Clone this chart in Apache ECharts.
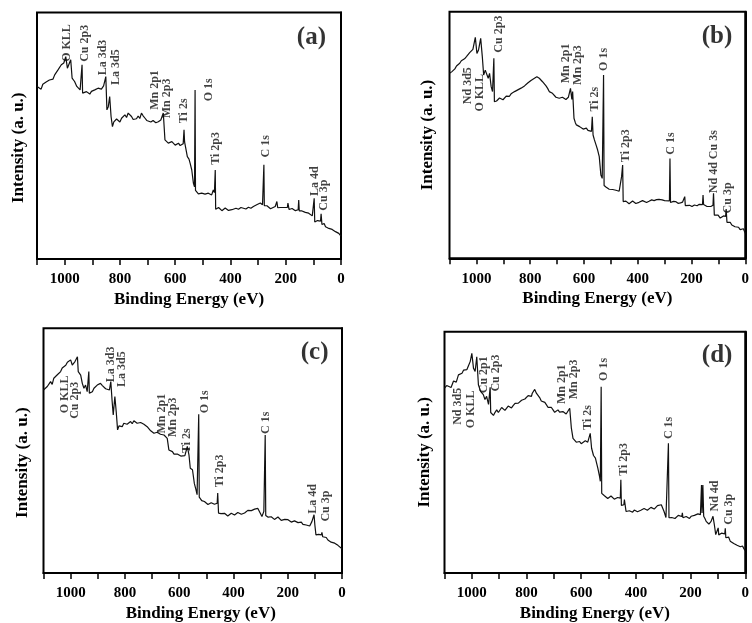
<!DOCTYPE html>
<html><head><meta charset="utf-8">
<script src="https://cdn.jsdelivr.net/npm/echarts@6/dist/echarts.min.js"></script>
<style>html,body{margin:0;padding:0;background:#fff}#c{width:752px;height:623px}</style>
</head><body><div id="c"></div>
<script>
// Binding energy (eV) vs intensity (a.u., 0-100 of plot height)
const spectrumA = [[1100,70.0],[1093,70.2],[1085,68.9],[1079,70.9],[1073,70.6],[1067,71.8],[1061,72.0],[1055,72.6],[1048,73.4],[1042,73.0],[1036,74.7],[1030,75.3],[1024,76.7],[1018,76.2],[1012,78.8],[1003,79.5],[996,82.1],[990,77.4],[978,80.8],[973,73.4],[964,72.0],[956,70.0],[949,70.6],[944,68.6],[941,68.0],[938.5,68.2],[937,78.8],[935,67.3],[928,66.6],[921,67.9],[915,67.5],[909,66.9],[903,68.0],[897,67.6],[891,68.6],[885,68.1],[879,69.3],[873,68.6],[867,68.9],[859,70.2],[853,70.5],[851,74.0],[847,60.5],[842,61.8],[837,65.9],[832,57.8],[827,53.7],[822,55.6],[818,55.1],[812,56.8],[806,56.4],[800,55.6],[794,57.1],[788,57.9],[782,58.5],[776,57.4],[770,59.2],[764,58.4],[758,57.8],[752,56.6],[746,57.1],[740,56.9],[734,58.0],[728,57.0],[722,59.2],[716,58.1],[709,57.1],[703,56.2],[697,56.4],[688,55.6],[680,56.2],[670,55.3],[661,55.7],[652,56.4],[643,59.2],[637,48.3],[631,47.5],[625,47.0],[618,46.5],[612,47.6],[606,46.8],[600,46.2],[594,46.7],[588,47.0],[582,46.0],[576,46.2],[571,46.8],[568,52.4],[566,47.5],[563,47.0],[556,41.5],[550,40.5],[546,38.9],[540,36.1],[534,30.7],[530,29.3],[528,68.6],[526.5,27.8],[524,27.3],[516,26.4],[510,26.9],[504,26.7],[498,25.9],[492,26.3],[486,26.9],[480,26.7],[474,26.2],[468,26.0],[462,28.0],[458,27.0],[455,36.1],[453.5,20.2],[450,19.9],[443,20.9],[437,20.6],[431,19.6],[425,19.9],[419,20.7],[413,20.2],[407,19.7],[401,20.4],[395,20.0],[389,19.9],[380,20.6],[371,20.2],[362,20.9],[353,20.6],[344,20.3],[335,21.0],[326,20.6],[317,21.3],[311,21.0],[305,22.0],[298,21.6],[292,22.7],[284,22.0],[281,22.2],[279,38.2],[277.5,21.6],[274,21.3],[268,21.6],[262,21.0],[255,20.4],[248,20.6],[238,21.3],[234,21.0],[232,23.3],[229,20.8],[226,20.6],[220,20.9],[214,20.4],[208,20.9],[202,20.6],[194,20.9],[192,22.7],[188,20.1],[183,19.9],[177,20.5],[171,20.2],[165,19.6],[159,19.9],[155,20.0],[153,23.9],[151,19.5],[147,19.2],[141,19.5],[135,18.8],[129,18.9],[123,18.3],[117,18.6],[111,17.9],[104,17.5],[99,17.8],[97,24.6],[95,15.0],[90,14.5],[85,15.6],[81,15.2],[74,15.4],[72,18.3],[69,14.0],[66,13.8],[61,14.4],[56,13.1],[50,13.4],[44,12.4],[38,12.9],[32,12.0],[26,11.9],[20,11.1],[14,11.5],[8,10.4],[3,10.0],[0,9.3]];

const spectrumB = [[1100,75.0],[1092,75.6],[1086,76.0],[1080,76.8],[1074,78.0],[1068,77.6],[1062,79.1],[1056,80.1],[1050,80.2],[1044,80.9],[1037,81.8],[1031,82.5],[1025,83.4],[1019,83.0],[1013,84.7],[1004,89.6],[998,83.1],[992,84.5],[984,89.2],[978,81.8],[973,74.3],[967,76.3],[961,77.0],[956,73.0],[951,75.0],[945,69.6],[940,67.6],[937,67.0],[935,81.1],[933,63.5],[929,62.9],[925,63.8],[920,64.0],[914,65.0],[908,65.3],[901,64.3],[895,64.9],[889,65.8],[883,66.3],[877,65.7],[871,66.7],[864,66.4],[858,67.6],[852,67.2],[846,68.3],[840,68.0],[834,69.0],[827,69.3],[821,69.9],[815,70.3],[809,71.1],[803,71.0],[797,72.1],[790,72.4],[784,73.0],[779,72.7],[775,73.6],[770,73.9],[766,73.0],[760,72.8],[754,71.6],[748,71.0],[741,69.9],[735,68.9],[729,67.6],[723,67.8],[717,66.9],[710,66.4],[704,65.3],[698,65.7],[692,64.9],[686,64.3],[680,65.3],[673,64.8],[667,64.4],[662,65.0],[658,65.3],[650,68.9],[645,64.4],[642,67.6],[637,56.8],[632,55.0],[628,54.1],[622,53.5],[616,53.4],[609,52.9],[603,52.4],[597,53.0],[591,52.8],[585,51.9],[579,51.3],[572,51.5],[569,57.4],[566,50.0],[561,48.0],[555,46.0],[549,43.9],[543,41.2],[537,33.8],[532,32.4],[529,32.0],[527,74.3],[525,29.5],[522,29.0],[517,28.8],[512,28.4],[506,28.0],[500,27.7],[493,27.9],[487,27.4],[481,27.6],[475,27.0],[469,27.2],[465,27.7],[460,33.1],[456,37.8],[454,23.0],[450,22.3],[444,23.2],[438,23.0],[432,22.1],[426,22.3],[419,23.2],[413,22.7],[407,22.2],[401,23.0],[395,22.7],[389,22.5],[382,23.4],[376,22.8],[367,22.6],[358,23.1],[348,23.7],[339,23.4],[330,23.8],[321,23.9],[315,24.4],[309,23.7],[300,23.4],[293,23.0],[282,23.3],[280,40.5],[278,22.6],[275,22.5],[267,23.1],[259,23.0],[250,22.3],[241,22.5],[233,22.8],[227,22.8],[225,25.0],[223,21.4],[216,21.0],[207,21.5],[198,21.0],[189,21.6],[179,21.3],[171,21.9],[165,21.7],[159,21.8],[157,25.7],[155,21.8],[149,21.7],[142,21.0],[136,20.4],[128,21.0],[120,21.5],[118,26.4],[115,17.5],[109,16.9],[101,17.5],[93,16.3],[86,16.9],[81,17.2],[73,17.0],[71,20.0],[68,14.6],[62,14.2],[56,14.6],[50,13.5],[44,13.9],[38,12.8],[31,13.2],[25,12.6],[19,11.6],[13,11.5],[7,12.0],[0,10.1]];

const spectrumC = [[1100,74.8],[1093,75.6],[1086,76.2],[1080,76.0],[1074,78.2],[1068,77.1],[1062,79.6],[1056,79.0],[1049,81.0],[1043,81.3],[1037,82.3],[1031,83.8],[1025,84.4],[1018,84.9],[1012,86.1],[1006,85.5],[1000,87.1],[994,85.0],[984,86.4],[975,88.4],[972,82.3],[963,80.9],[957,77.5],[951,75.5],[945,76.8],[939,74.1],[935,74.5],[933,82.3],[931,73.5],[926,72.8],[920,74.1],[914,75.5],[908,76.3],[902,76.8],[896,76.0],[890,77.5],[883,76.6],[877,76.2],[871,75.3],[865,75.5],[857,74.8],[852,78.2],[847,70.1],[843,64.6],[837,72.1],[832,65.9],[827,58.5],[822,60.1],[816,60.6],[810,59.8],[804,61.2],[798,61.6],[792,60.8],[785,61.4],[779,61.9],[773,61.0],[767,62.2],[761,61.6],[755,61.2],[748,60.4],[742,61.5],[736,60.9],[730,60.8],[724,60.1],[718,59.8],[711,59.3],[705,58.1],[699,58.6],[693,57.1],[687,57.9],[681,57.5],[675,57.0],[669,56.7],[662,57.2],[656,56.4],[650,55.9],[644,55.0],[638,50.3],[631,50.0],[625,49.6],[619,48.6],[613,49.2],[607,48.6],[601,48.9],[594,47.8],[588,48.3],[579,48.0],[572,48.2],[570,51.7],[564,48.3],[559,42.8],[551,42.2],[544,36.5],[538,34.0],[534,32.0],[530,32.5],[528,64.9],[526,31.0],[522,30.6],[517,29.6],[513,28.9],[507,29.2],[501,28.6],[494,28.0],[488,28.2],[482,28.7],[476,27.9],[470,28.1],[464,28.6],[460,28.5],[458,32.7],[455,24.5],[452,23.8],[446,24.3],[439,23.5],[433,24.4],[427,24.1],[421,23.3],[415,23.5],[408,24.4],[402,24.3],[396,23.7],[390,23.8],[384,24.7],[378,24.5],[371,24.0],[365,24.8],[359,24.5],[353,25.2],[347,25.6],[341,24.9],[334,25.5],[328,25.5],[322,26.1],[316,25.9],[310,26.4],[304,26.8],[295,23.1],[288,25.2],[285,25.5],[283,56.4],[281,23.5],[278,23.1],[272,22.8],[267,22.4],[261,23.0],[255,22.7],[249,21.9],[242,22.0],[236,22.9],[230,22.4],[224,21.5],[218,21.7],[211,21.9],[205,21.3],[199,21.8],[193,21.7],[187,20.8],[181,20.7],[175,21.3],[169,21.0],[162,20.6],[156,20.3],[150,20.8],[144,19.9],[138,20.3],[132,19.6],[125,19.9],[119,19.2],[111,21.0],[103,23.8],[100,19.6],[96,15.6],[91,16.4],[86,15.8],[76,15.6],[74,16.6],[71,14.8],[64,14.2],[58,14.5],[52,13.5],[46,13.9],[40,12.6],[33,13.0],[27,12.2],[21,11.8],[15,11.3],[8,11.6],[0,9.9]];

const spectrumD = [[1100,76.6],[1092,77.7],[1085,78.0],[1076,76.9],[1067,79.6],[1061,80.3],[1057,79.1],[1049,82.1],[1042,81.4],[1036,82.8],[1030,84.1],[1024,84.9],[1018,84.3],[1012,86.0],[1006,87.6],[1000,91.0],[994,84.9],[988,83.5],[982,89.6],[976,78.0],[968,75.3],[958,73.9],[952,71.9],[946,73.2],[939,69.9],[935,70.0],[933,77.0],[931,66.5],[927,66.2],[921,65.3],[915,66.6],[909,67.6],[903,66.5],[897,67.2],[891,68.6],[885,68.3],[879,67.4],[873,68.0],[867,69.2],[861,69.0],[855,68.4],[849,69.4],[842,70.3],[836,69.9],[830,70.4],[824,70.8],[818,71.6],[812,71.8],[806,72.1],[800,72.7],[794,73.5],[788,73.8],[782,73.2],[779,74.5],[770,76.1],[764,74.5],[758,73.9],[752,72.7],[746,71.3],[739,70.8],[733,70.7],[727,69.7],[721,68.6],[715,68.3],[709,68.6],[703,67.6],[697,66.6],[691,67.2],[685,67.6],[679,66.7],[673,66.0],[667,66.9],[661,66.4],[655,65.9],[648,66.2],[642,68.3],[636,60.0],[630,55.8],[624,55.0],[618,54.2],[612,54.9],[606,54.5],[600,53.6],[594,53.8],[585,54.8],[576,54.2],[570,54.0],[567,57.9],[562,51.7],[555,48.7],[548,47.6],[545,46.2],[539,43.4],[533,40.0],[530,38.0],[527,77.2],[525,33.0],[521,32.4],[515,32.0],[509,31.7],[503,30.9],[497,31.1],[491,31.9],[485,31.4],[479,30.6],[473,30.8],[467,31.3],[461,31.1],[457,31.0],[455,38.6],[453,28.0],[451,27.6],[444,28.3],[442,30.4],[436,25.5],[430,26.2],[424,25.8],[418,25.0],[412,25.2],[406,26.1],[400,25.8],[394,25.4],[388,26.2],[382,26.0],[376,25.8],[370,26.7],[364,26.5],[358,26.0],[352,26.6],[345,27.2],[339,26.9],[333,26.5],[327,27.2],[321,27.9],[315,27.6],[307,28.3],[297,25.5],[290,23.0],[283,23.2],[281,53.8],[279,22.9],[275,22.8],[269,23.0],[263,23.5],[257,22.6],[251,23.0],[245,23.9],[239,23.5],[232,23.4],[230,24.9],[228,22.9],[222,22.8],[216,23.4],[210,23.0],[204,22.6],[198,23.5],[192,23.2],[186,23.9],[179,23.5],[173,24.5],[168,23.8],[164,24.2],[160,36.5],[158,24.9],[155,36.5],[152,23.5],[147,22.5],[143,21.4],[138,21.0],[133,20.3],[125,21.4],[118,23.5],[113,20.0],[108,15.9],[101,16.0],[99,18.7],[97,15.8],[93,15.7],[87,16.5],[81,16.3],[75,16.2],[73,18.5],[71,14.6],[67,14.4],[61,14.9],[55,13.2],[48,13.6],[42,12.2],[36,12.6],[30,11.5],[24,11.9],[18,10.9],[10,11.2],[5,10.1],[0,9.2]];

// Peak labels: [text, binding energy of label, intensity at label foot]
const labelsA = [['O KLL',993,80],['Cu 2p3',925,80],['La 3d3',862,74.5],['La 3d5',816,70.6],['Mn 2p1',675,60.5],['Mn 2p3',630,57.1],['Ti 2s',570,55.1],['O 1s',478,64],['Ti 2p3',452,38.2],['C 1s',271,41.2],['La 4d',96,25.6],['Cu 3p',61,19.6]];
const labelsB = [['Nd 3d5',1033,62.5],['O KLL',986,59.5],['Cu 2p3',917,83.4],['Mn 2p1',666,71],['Mn 2p3',621,70.3],['Ti 2s',560,59.5],['O 1s',524,76],['Ti 2p3',444,39],['C 1s',276,42],['Nd 4d Cu 3s',115,26.4],['Cu 3p',65,18.2]];
const labelsC = [['O KLL',1021,65.3],['Cu 2p3',984,63],['La 3d3',850,78],['La 3d5',810,76],['Mn 2p1',665,57],['Mn 2p3',622,55.5],['Ti 2s',573,49],['O 1s',507,65.3],['Ti 2p3',449,35],['C 1s',282,56.8],['La 4d',106,24.2],['Cu 3p',61,21]];
const labelsD = [['Nd 3d5',1050,61.4],['O KLL',1003,60],['Cu 2p1',955,74.5],['Cu 2p3',913,75.2],['Mn 2p1',672,70],['Mn 2p3',626,72],['Ti 2s',575,59.3],['O 1s',516,79.6],['Ti 2p3',443,40.3],['C 1s',279.5,55.5],['Nd 4d',112,25.5],['Cu 3p',61,20]];

const panelTags = [['(a)',107,90],['(b)',105,90],['(c)',101,90],['(d)',103,90]];
const xTickStep = 100;
const xMin = 0, xMax = 1100;
const xTitle = 'Binding Energy (eV)';
const yTitle = 'Intensity (a. u.)';

const FONT = '"Liberation Serif","Times New Roman",serif';
const INK = '#111';
const spectra = [spectrumA, spectrumB, spectrumC, spectrumD];
const labelSets = [labelsA, labelsB, labelsC, labelsD];
const layout = [
  {grid:{left:37, top:12.5, width:304, height:246.5}, yGap:10, yPad:[0,24,0,0], xPad:[0,0,0,0]},
  {grid:{left:449.5, top:11.7, width:297.5, height:246.6}, yGap:13, yPad:[0,0,0,0], xPad:[0,0,0,0]},
  {grid:{left:43.5, top:328.3, width:298.5, height:245}, yGap:12, yPad:[0,24,0,0], xPad:[0,0,0,16]},
  {grid:{left:444.5, top:331.7, width:302.5, height:241.6}, yGap:11, yPad:[0,0,0,0], xPad:[0,0,0,0]}
];

const grids = [], xAxes = [], yAxes = [], series = [];
layout.forEach((L, i) => {
  grids.push(Object.assign({show:true, borderColor:'#000', borderWidth:2, backgroundColor:'transparent', containLabel:false}, L.grid));
  xAxes.push({
    gridIndex:i, type:'value', min:xMin, max:xMax, interval:xTickStep, inverse:true,
    axisLine:{show:true, onZero:false, lineStyle:{color:'#000', width:2}},
    axisTick:{show:true, inside:false, length:6, lineStyle:{color:'#000', width:1.5}},
    axisLabel:{margin:13, color:'#000', fontFamily:FONT, fontWeight:'bold', fontSize:15,
      formatter: v => (v % 200 === 0 && v <= 1000) ? String(v) : ''},
    splitLine:{show:false},
    name:xTitle, nameLocation:'middle', nameGap:32,
    nameTextStyle:{color:'#000', fontFamily:FONT, fontWeight:'bold', fontSize:17, padding:L.xPad}
  });
  yAxes.push({
    gridIndex:i, type:'value', min:0, max:100,
    axisLine:{show:true, lineStyle:{color:'#000', width:2}},
    axisTick:{show:false}, axisLabel:{show:false}, splitLine:{show:false},
    name:yTitle, nameLocation:'middle', nameGap:L.yGap,
    nameTextStyle:{color:'#000', fontFamily:FONT, fontWeight:'bold', fontSize:17, padding:L.yPad}
  });
  series.push({
    type:'line', xAxisIndex:i, yAxisIndex:i, data:spectra[i], showSymbol:false, symbol:'none',
    lineStyle:{color:INK, width:1.2}, silent:true, z:2
  });
  series.push({
    type:'scatter', xAxisIndex:i, yAxisIndex:i, symbolSize:0, silent:true, z:3,
    data:labelSets[i].map(l => [l[1], l[2], l[0]]),
    label:{show:true, formatter:p => p.data[2], rotate:90, position:'inside', align:'left', verticalAlign:'middle',
      color:INK, fontFamily:FONT, fontWeight:'bold', fontSize:12}
  });
  const t = panelTags[i];
  series.push({
    type:'scatter', xAxisIndex:i, yAxisIndex:i, symbolSize:0, silent:true, z:3,
    data:[[t[1], t[2], t[0]]],
    label:{show:true, formatter:p => p.data[2], position:'inside', align:'center', verticalAlign:'middle',
      color:'#000', fontFamily:FONT, fontWeight:'bold', fontSize:25}
  });
});

const chart = echarts.init(document.getElementById('c'), null, {renderer:'canvas'});
chart.setOption({animation:false, backgroundColor:'#fff', grid:grids, xAxis:xAxes, yAxis:yAxes, series:series});
</script></body></html>
